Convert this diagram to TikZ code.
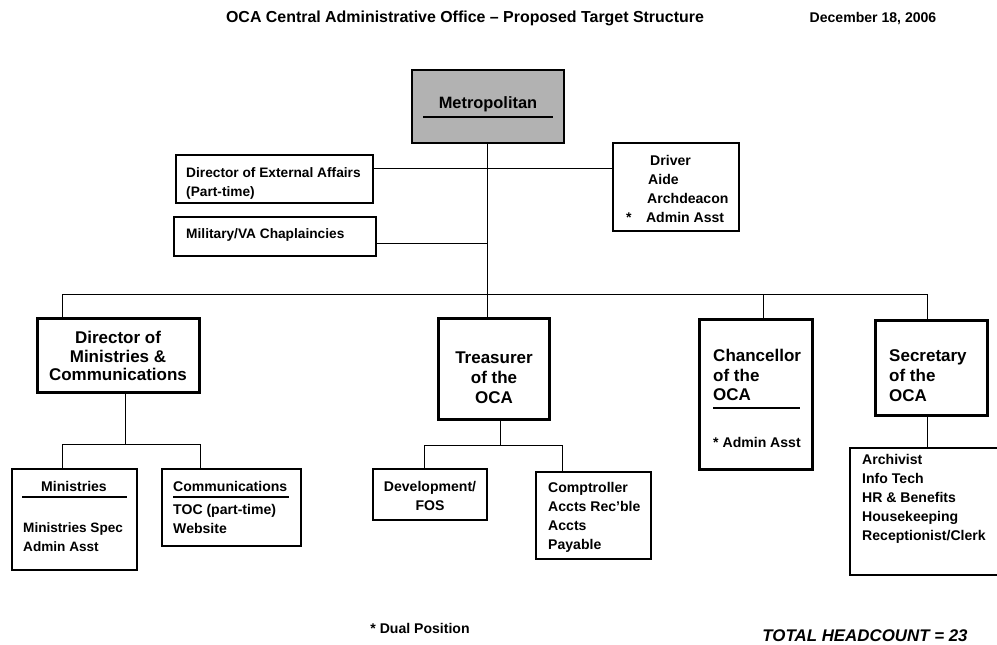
\documentclass[tikz,border=0pt]{standalone}
\usepackage{fontspec}
\setmainfont{Liberation Sans}
\usetikzlibrary{fit, positioning}
\definecolor{metrogray}{RGB}{178,178,178}
\tikzset{
  box/.style={draw, line width=1.1pt, inner sep=0pt},
  headbox/.style={draw, line width=2.4pt, inner sep=0pt},
  txt/.style={inner sep=0pt, align=left},
  headtxt/.style={txt, font=\fontsize{14.5}{17}\selectfont\bfseries},
  link/.style={line width=0.8pt},
  rule/.style={line width=1.2pt}
}

\begin{document}
\begin{tikzpicture}[x=0.3mm, y=-0.3mm, font=\fontsize{12}{16.2}\selectfont\bfseries]
	\useasboundingbox (0,0) rectangle (997,645);

	% heading
	\node[txt, font=\fontsize{13.6}{16}\selectfont\bfseries] (title) at (465,18) {OCA Central Administrative Office – Proposed Target Structure};
	\node[txt] (date) at (873,18) {December 18, 2006};

	% top office
	\node[box, fill=metrogray, fit={(412,70) (564,143)}] (metro) {};
	\node[txt, font=\fontsize{14}{16}\selectfont\bfseries] (metroT) at (488,104) {Metropolitan};
	\draw[rule] (423,117) -- (553,117);

	\node[box, fit={(176,155) (373,203)}] (extaff) {};
	\node[txt, anchor=west, font=\fontsize{11.7}{16.2}\selectfont\bfseries] (extaffT) at (186,183) {Director of External Affairs\\(Part-time)};
	\node[box, fit={(174,217) (376,256)}] (milit) {};
	\node[txt, anchor=west, font=\fontsize{11.7}{16.2}\selectfont\bfseries] (militT) at (186,235) {Military/VA Chaplaincies};
	\node[box, fit={(613,143) (739,231)}] (driver) {};
	\node[txt, anchor=west] (driverT) at (626,189) {\hspace*{7.2mm}Driver\\\hspace*{6.6mm}Aide\\\hspace*{6.3mm}Archdeacon\\*\hspace{4.3mm}Admin Asst};

	% department heads
	\node[headbox, fit={(37,318) (200,393)}] (dirmin) {};
	\node[headtxt, align=center, font=\fontsize{14.5}{15.8}\selectfont\bfseries] (dirminT) at (118,356) {Director of\\Ministries \&\\Communications};
	\node[headbox, fit={(438,318) (550,420)}] (treas) {};
	\node[headtxt, align=center] (treasT) at (494,378) {Treasurer\\of the\\OCA};
	\node[headbox, fit={(699,319) (813,470)}] (chanc) {};
	\node[headtxt, anchor=west] (chancT) at (713,375) {Chancellor\\of the\\OCA};
	\draw[rule] (713,408) -- (800,408);
	\node[txt, anchor=west] (chancA) at (713,442) {* Admin Asst};
	\node[headbox, fit={(875,320) (988,416)}] (secr) {};
	\node[headtxt, anchor=west] (secrT) at (889,376) {Secretary\\of the\\OCA};
	\foreach \n in {dirmin, treas, chanc, secr}
		\draw[line width=0.6pt] ([shift={(0.85mm,-0.85mm)}]\n.north west) rectangle ([shift={(-0.85mm,0.85mm)}]\n.south east);

	% staff units
	\node[box, fit={(12,469) (137,570)}] (mins) {};
	\node[txt] (minsT) at (74,486) {Ministries};
	\draw[rule] (22,497) -- (127,497);
	\node[txt, anchor=west, font=\fontsize{11.6}{16.2}\selectfont\bfseries] (minsS) at (23,537) {Ministries Spec\\Admin Asst};
	\node[box, fit={(162,469) (301,546)}] (comms) {};
	\node[txt, anchor=west] (commsT) at (173,486) {Communications};
	\draw[rule] (173,497) -- (289,497);
	\node[txt, anchor=west] (commsS) at (173,519) {TOC (part-time)\\Website};
	\node[box, fit={(373,469) (487,520)}] (devel) {};
	\node[txt, align=center] (develT) at (430,496) {Development/\\FOS};
	\node[box, fit={(536,472) (651,559)}] (compt) {};
	\node[txt, anchor=west] (comptT) at (548,517) {Comptroller\\Accts Rec'ble\\Accts\\Payable};
	\node[box, fit={(850,448) (1010,575)}] (staff) {};
	\node[txt, anchor=north west] (staffT) at (862,454) {Archivist\\Info Tech\\HR \& Benefits\\Housekeeping\\Receptionist/Clerk};

	% connectors
	\coordinate (hub) at (487,294);
	\coordinate (barL) at (62,294);
	\coordinate (barR) at (927,294);
	\coordinate (barC) at (763,294);
	\draw[link] (metro.south -| hub) -- (hub);
	\draw[link] (barL) -- (barR);
	\coordinate (j1) at (487,168);
	\coordinate (j2) at (487,243);
	\draw[link] (extaff.east |- j1) -- (driver.west |- j1);
	\draw[link] (milit.east |- j2) -- (j2);
	\draw[link] (barL) -- (barL |- dirmin.north);
	\draw[link] (hub) -- (hub |- treas.north);
	\draw[link] (barC) -- (barC |- chanc.north);
	\draw[link] (barR) -- (barR |- secr.north);

	\coordinate (dm) at (125,444);
	\coordinate (dmL) at (62,444);
	\coordinate (dmR) at (200,444);
	\draw[link] (dirmin.south -| dm) -- (dm);
	\draw[link] (dmL) -- (dmR);
	\draw[link] (dmL) -- (dmL |- mins.north);
	\draw[link] (dmR) -- (dmR |- comms.north);

	\coordinate (tr) at (500,445);
	\coordinate (trL) at (424,445);
	\coordinate (trR) at (562,445);
	\draw[link] (treas.south -| tr) -- (tr);
	\draw[link] (trL) -- (trR);
	\draw[link] (trL) -- (trL |- devel.north);
	\draw[link] (trR) -- (trR |- compt.north);

	\draw[link] (secr.south -| barR) -- (barR |- staff.north);

	% footer
	\node[txt] (dual) at (420,628) {* Dual Position};
	\node[txt, anchor=base, font=\fontsize{14.4}{16.2}\selectfont\bfseries\itshape] (total) at (865,641) {TOTAL HEADCOUNT = 23};

\end{tikzpicture}
\end{document}
